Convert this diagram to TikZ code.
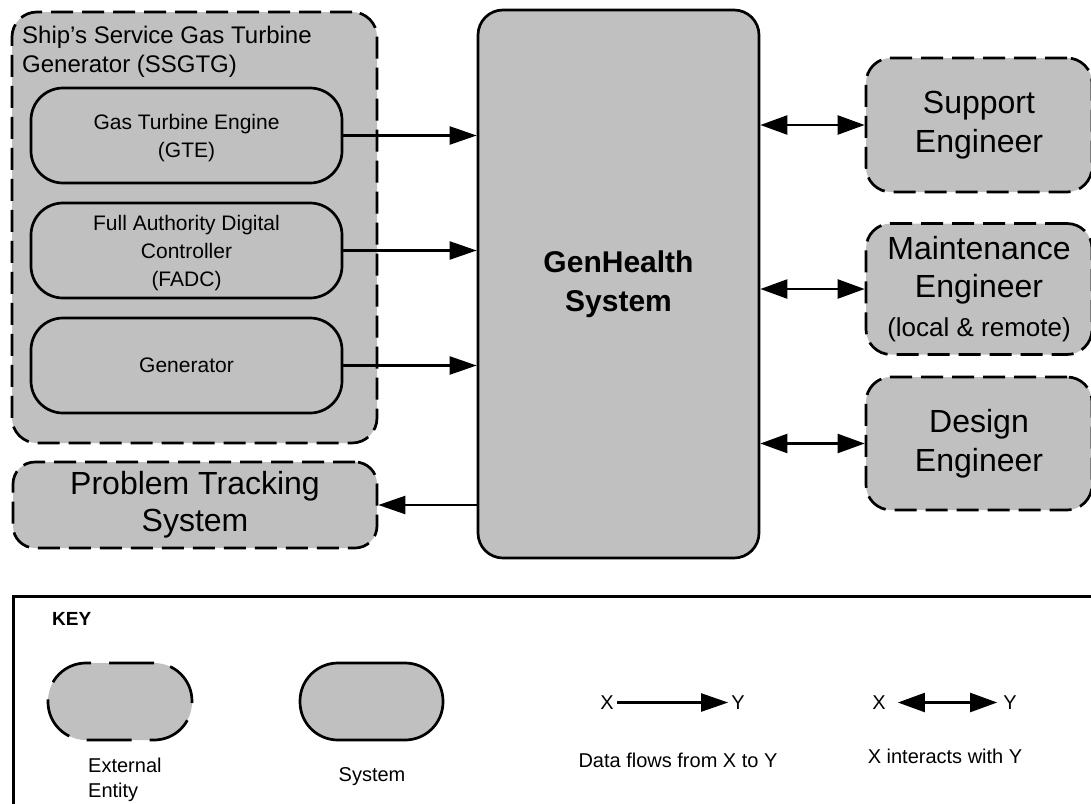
\documentclass[tikz,border=0pt]{standalone}
\usepackage{fontspec}
\setmainfont{Liberation Sans}
\usetikzlibrary{arrows.meta}
\definecolor{boxgray}{RGB}{192,192,192}
\tikzset{
  entity/.style={draw, line width=2.7pt, fill=boxgray, dash pattern=on 22pt off 9pt,
                 rounded corners=25pt, inner sep=0pt},
  sysbox/.style={draw, line width=2.7pt, fill=boxgray, inner sep=0pt},
  component/.style={sysbox, rounded corners=32pt, minimum width=311pt, minimum height=95pt,
                    align=center, font=\fontsize{21}{28}\selectfont},
  actor/.style={entity, minimum width=226pt, align=center, font=\fontsize{32}{38.5}\selectfont},
  flow/.style={line width=2.3pt, -{Triangle[length=27pt,width=18pt]}},
  interact/.style={line width=2.3pt, {Triangle[length=27pt,width=19pt]}-{Triangle[length=27pt,width=19pt]}},
  lbl/.style={inner sep=0pt, font=\fontsize{20}{25}\selectfont},
}
\begin{document}
\begin{tikzpicture}[x=1pt,y=-1pt]
\useasboundingbox (0,0) rectangle (1091,803);
\clip (0,0) rectangle (1091,803);

% SSGTG group
\node[entity, minimum width=365pt, minimum height=431pt] (ssgtg) at (194.5,227.5) {};
\node[anchor=north west, inner sep=0pt, align=left, font=\fontsize{24}{29}\selectfont]
  (ssgtgtitle) at (22,26) {Ship’s Service Gas Turbine\\Generator (SSGTG)};
\node[component, text depth=-2pt] (gte)  at (186.5,135.5) {Gas Turbine Engine\\(GTE)};
\node[component, text depth=-1pt] (fadc) at (186.5,250.5) {Full Authority Digital\\Controller\\(FADC)};
\node[component] (gen)  at (186.5,365.5) {Generator};

% Problem tracking
\node[entity, rounded corners=22pt, minimum width=364pt, minimum height=86pt, align=center,
      font=\fontsize{32}{37}\selectfont] (pts) at (195,505) {Problem Tracking\\System};

% Central system
\node[sysbox, rounded corners=25pt, minimum width=281pt, minimum height=548pt, align=center,
      font=\bfseries\fontsize{30}{39}\selectfont] (gh) at (618.5,284) {GenHealth\\System};

% Engineers
\node[actor, minimum height=134pt] (se) at (979,125) {Support\\Engineer};
\node[actor, minimum height=131pt] (me) at (979,289)
  {Maintenance\\Engineer\\{\fontsize{26}{32}\selectfont (local \& remote)}};
\node[actor, minimum height=133pt] (de) at (979,443.5) {Design\\Engineer};

% Data flows
\draw[flow] (gte.east)  -- (gte.east -| gh.west);
\draw[flow] (fadc.east) -- (fadc.east -| gh.west);
\draw[flow] (gen.east)  -- (gen.east -| gh.west);
\draw[flow] (gh.west |- pts.east) -- (pts.east);
\draw[interact] (gh.east |- se.west) -- (se.west);
\draw[interact] (gh.east |- me.west) -- (me.west);
\draw[interact] (gh.east |- de.west) -- (de.west);

% Key
\node[draw, line width=3pt, anchor=north west, minimum width=1100pt, minimum height=230pt,
      inner sep=0pt] (keybox) at (12,595) {};
\node[anchor=west, inner sep=0pt, font=\bfseries\fontsize{19}{23}\selectfont] (keytitle) at (52,619) {KEY};
\node[draw, line width=2.7pt, fill=boxgray, dash pattern=on 45pt off 18pt, rounded corners=38pt,
      minimum width=144pt, minimum height=77pt] (keyext) at (120,701.5) {};
\node[sysbox, rounded corners=38pt, minimum width=143pt, minimum height=77pt] (keysys) at (371.5,701.5) {};
\node[lbl, align=left, anchor=west] (keyextlbl) at (88,780) {External\\Entity};
\node[lbl] (keysyslbl) at (372,777) {System};

\node[lbl, inner sep=3pt] (fx) at (607,702.5) {X};
\node[lbl, inner sep=3pt] (fy) at (738,702.5) {Y};
\draw[flow] (fx) -- (fy);
\node[lbl] (flowlbl) at (678,760) {Data flows from X to Y};

\node[lbl, inner sep=3pt] (ix) at (879,702.5) {X};
\node[lbl, inner sep=3pt] (iy) at (1010,702.5) {Y};
\draw[interact, shorten <=9pt, shorten >=3pt] (ix) -- (iy);
\node[lbl] (interlbl) at (945,756) {X interacts with Y};
\end{tikzpicture}
\end{document}
